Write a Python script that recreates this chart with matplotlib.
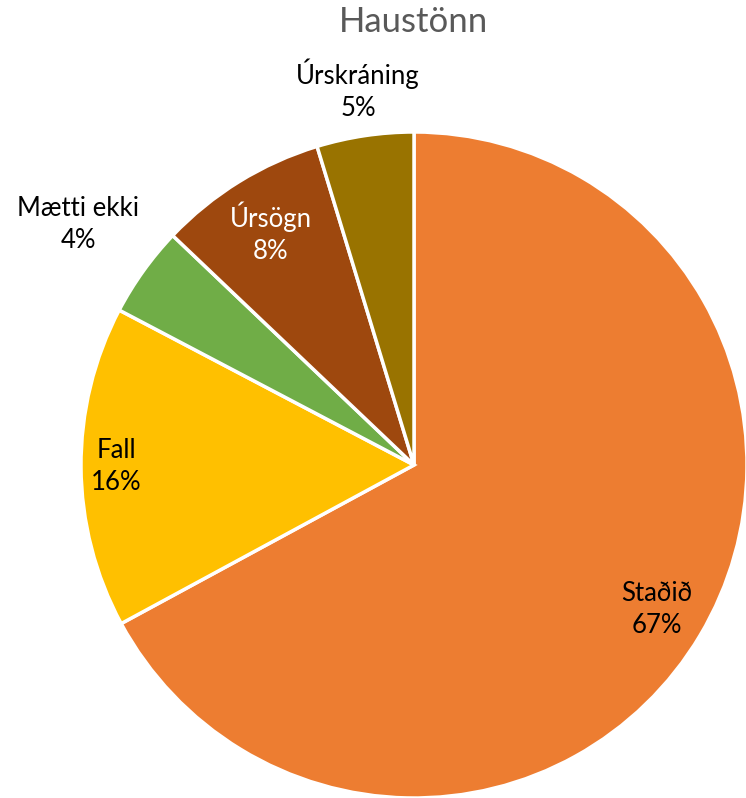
import matplotlib.pyplot as plt
import numpy as np

# Share of students per outcome, autumn term
categories = ['Staðið', 'Fall', 'Mætti ekki', 'Úrsögn', 'Úrskráning']
shares = [67.1, 15.6, 4.4, 8.2, 4.7]
pct_labels = ['67%', '16%', '4%', '8%', '5%']

colors = ['#ED7D31', '#FFC000', '#70AD47', '#9E480E', '#997300']
text_colors = ['black', 'black', 'black', 'white', 'black']
label_dist = [0.85, 0.895, 1.24, 0.82, 1.14]

fig = plt.figure(figsize=(7.46, 7.98), dpi=100)
ax = fig.add_axes([81 / 746, 0 / 798, 666 / 746, 666 / 798])

wedges, _ = ax.pie(shares, colors=colors, startangle=90, counterclock=False,
                   radius=1, wedgeprops=dict(edgecolor='white', linewidth=2.5))
ax.set_xlim(-1, 1)
ax.set_ylim(-1, 1)
ax.set_aspect('equal')

# data labels, placed along the middle angle of each wedge
for w, name, pct, tc, d in zip(wedges, categories, pct_labels, text_colors, label_dist):
    mid = np.deg2rad((w.theta1 + w.theta2) / 2)
    ax.text(d * np.cos(mid), d * np.sin(mid), f'{name}\n{pct}', ha='center', va='center',
            fontsize=18.5, family='Lato', color=tc, linespacing=1.35, clip_on=False)

fig.text(414 / 746, 1 - 22 / 798, 'Haustönn', ha='center', va='center',
         fontsize=25, family='Lato', color='#595959')

fig.savefig('out.png', dpi=100)
